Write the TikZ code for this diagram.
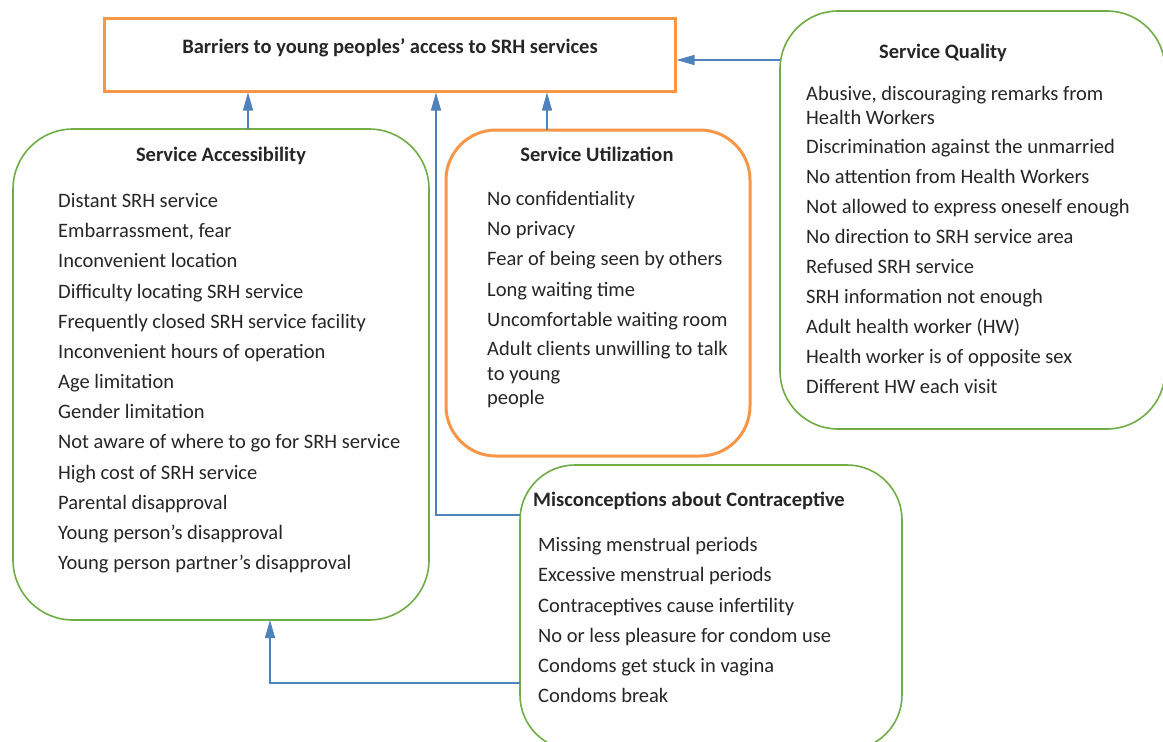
\documentclass[tikz,border=0pt]{standalone}
\usepackage{fontspec}
\setmainfont{Carlito}
\usetikzlibrary{arrows.meta}
\definecolor{ogreen}{HTML}{70AD47}
\definecolor{oorange}{HTML}{F79646}
\definecolor{oblue}{HTML}{4F81BD}
\definecolor{txt}{HTML}{262626}
\begin{document}
\begin{tikzpicture}[x=1pt,y=-1pt,
  box/.style={rectangle, inner sep=0pt, outer sep=0pt, anchor=north west},
  gbox/.style={box, draw=ogreen, line width=1.6pt, rounded corners=#1},
  obox/.style={box, draw=oorange, line width=3pt, rounded corners=#1},
  ttl/.style={font=\fontsize{20.5}{24}\selectfont\bfseries, text=txt, anchor=base, inner sep=0pt},
  itm/.style={font=\fontsize{20.5}{24}\selectfont, text=txt, anchor=base west, inner sep=0pt},
  conn/.style={draw=oblue, line width=1.3pt},
  arr/.style={conn, -{Triangle[length=18pt,width=10pt]}}
]
\useasboundingbox (0,0) rectangle (1163,742);
\fill[white] (0,0) rectangle (1163,742);
\clip (0,0) rectangle (1163,742);

% boxes
\node[box, draw=oorange, line width=3pt, minimum width=571pt, minimum height=73pt] (top) at (104,18) {};
\node[gbox=60pt, minimum width=416pt, minimum height=491pt] (sa) at (13,129) {};
\node[obox=50pt, minimum width=304pt, minimum height=326pt] (su) at (446,130) {};
\node[gbox=58pt, minimum width=385pt, minimum height=418pt] (sq) at (780,11) {};
\node[gbox=55pt, minimum width=382pt, minimum height=285pt] (mc) at (520,465) {};

% titles
\node[ttl] (toptitle) at (390,53) {Barriers to young peoples’ access to SRH services};
\node[ttl] (satitle) at (221,161.7) {Service Accessibility};
\node[ttl] (sutitle) at (597,161) {Service Utilization};
\node[ttl] (sqtitle) at (943,58.3) {Service Quality};
\node[ttl, anchor=base west] (mctitle) at (533,506.7) {Misconceptions about Contraceptive};

% Service Accessibility items
\foreach \t [count=\i from 0] in {Distant SRH service, {Embarrassment, fear}, Inconvenient location,
  Difficulty locating SRH service, Frequently closed SRH service facility,
  Inconvenient hours of operation, Age limitation, Gender limitation,
  Not aware of where to go for SRH service, High cost of SRH service,
  Parental disapproval, Young person’s disapproval, Young person partner’s disapproval}
  \node[itm] (sa-\i) at (58,{207.5+30.17*\i}) {\t};

% Service Utilization items
\foreach \y/\t [count=\i] in {205/No confidentiality, 235.3/No privacy, 265.6/Fear of being seen by others,
  296/Long waiting time, 326/Uncomfortable waiting room, 355/Adult clients unwilling to talk,
  380/to young, 404/people}
  \node[itm] (su-\i) at (487,\y) {\t};

% Service Quality items
\foreach \y/\t [count=\i] in {100/{Abusive, discouraging remarks from}, 124.3/Health Workers,
  153/Discrimination against the unmarried, 183.1/No attention from Health Workers,
  213.2/Not allowed to express oneself enough, 243.3/No direction to SRH service area,
  273.4/Refused SRH service, 303.5/SRH information not enough, 333.6/Adult health worker (HW),
  363.7/Health worker is of opposite sex, 393.8/Different HW each visit}
  \node[itm] (sq-\i) at (806,\y) {\t};

% Misconceptions items
\foreach \y/\t [count=\i] in {551.7/Missing menstrual periods, 581.8/Excessive menstrual periods,
  612/Contraceptives cause infertility, 642/No or less pleasure for condom use,
  672/Condoms get stuck in vagina, 702/Condoms break}
  \node[itm] (mc-\i) at (538,\y) {\t};

% connectors
\draw[arr, shorten >=1.5pt] (248,0 |- sa.north) -- (248,0 |- top.south);
\draw[arr, shorten >=1.5pt] (547,0 |- su.north) -- (547,0 |- top.south);
\draw[arr, shorten >=1.5pt] (sq.west |- 0,60) -- (top.east |- 0,60);
\draw[arr, shorten >=1.5pt] (mc.west |- 0,515) -| (436,0 |- top.south);
\draw[arr] (mc.west |- 0,683) -| (270,0 |- sa.south);
\end{tikzpicture}
\end{document}
